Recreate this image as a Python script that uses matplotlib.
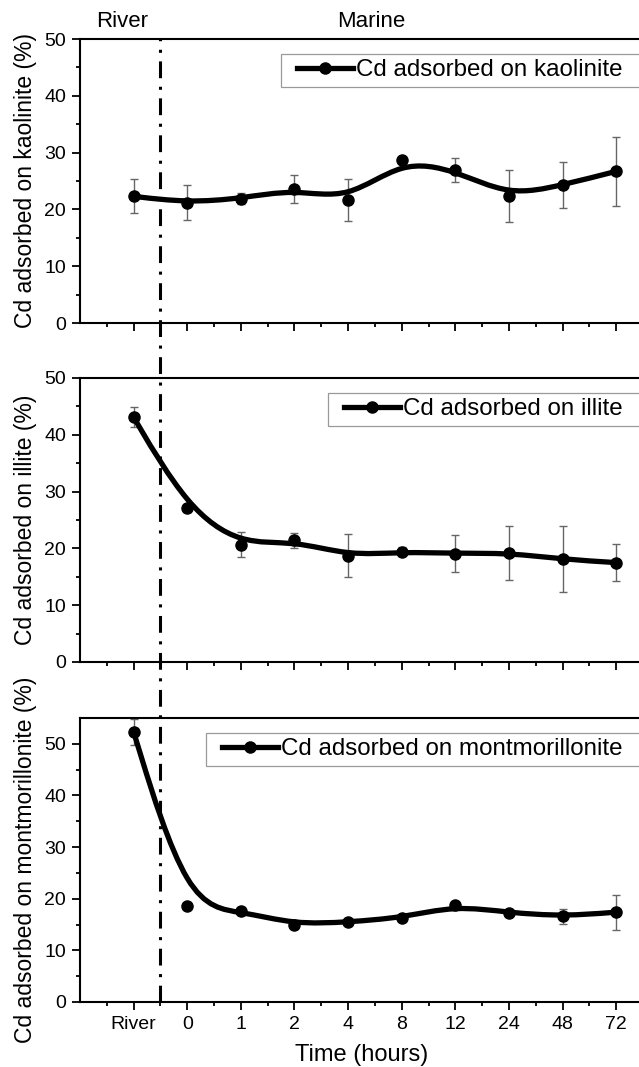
import numpy as np
import matplotlib
matplotlib.use("Agg")
import matplotlib.pyplot as plt
from matplotlib.path import Path
from matplotlib.patches import PathPatch
from matplotlib.lines import Line2D
from matplotlib.legend_handler import HandlerLine2D

plt.rcParams["font.family"] = ["Liberation Sans", "DejaVu Sans"]

categories = ["River", "0", "1", "2", "4", "8", "12", "24", "48", "72"]

kaolinite = [22.3, 21.2, 21.9, 23.6, 21.6, 28.7, 26.9, 22.3, 24.3, 26.7]
kaolinite_err = [3.0, 3.1, 0.9, 2.5, 3.7, 0.4, 2.1, 4.6, 4.1, 6.1]

illite = [43.1, 27.1, 20.6, 21.4, 18.7, 19.4, 19.1, 19.2, 18.1, 17.5]
illite_err = [1.8, 0.7, 2.2, 1.3, 3.8, 0.8, 3.2, 4.7, 5.8, 3.3]

montmorillonite = [52.3, 18.5, 17.6, 15.0, 15.5, 16.3, 18.7, 17.3, 16.6, 17.4]
montmorillonite_err = [2.5, 0.3, 0.8, 0.9, 0.5, 0.5, 0.5, 0.6, 1.4, 3.4]

panels = [
    ("kaolinite", kaolinite, kaolinite_err, 50),
    ("illite", illite, illite_err, 50),
    ("montmorillonite", montmorillonite, montmorillonite_err, 55),
]


def bspline_path(xs, ys):
    # Origin-style B-spline: data points are control points, ends clamped
    px = np.r_[xs[0], xs[0], xs, xs[-1], xs[-1]]
    py = np.r_[ys[0], ys[0], ys, ys[-1], ys[-1]]
    pts = np.column_stack([px, py])
    verts = [pts[0]]
    for i in range(len(pts) - 3):
        p1, p2, p3 = pts[i + 1], pts[i + 2], pts[i + 3]
        verts += [(2 * p1 + p2) / 3, (p1 + 2 * p2) / 3, (p1 + 4 * p2 + p3) / 6]
    codes = [Path.MOVETO] + [Path.CURVE4] * (len(verts) - 1)
    return Path(verts, codes)


fig = plt.figure(figsize=(6.39, 10.67), dpi=100)
W, H = 639.0, 1067.0
left_px, right_px = 80.0, 643.0
tops = [39, 378, 718]
panel_h = 284
x = np.arange(len(categories))
xlim = (-1, 9.5)

axes = []
for (name, vals, errs, ymax), top in zip(panels, tops):
    ax = fig.add_axes([left_px / W, 1 - (top + panel_h) / H, (right_px - left_px) / W, panel_h / H])
    axes.append(ax)
    ax.errorbar(x, vals, yerr=errs, fmt="none", ecolor="#666666", elinewidth=1.0, capsize=3, capthick=1.0, zorder=2)
    ax.add_patch(PathPatch(bspline_path(x.astype(float), np.array(vals)), fill=False, lw=3.8,
                           edgecolor="black", capstyle="round", joinstyle="round", zorder=3))
    ax.plot(x, vals, "o", color="black", ms=8, zorder=4)
    ax.set_xlim(*xlim)
    ax.set_ylim(0, ymax)
    ax.set_yticks([0, 10, 20, 30, 40, 50])
    ax.set_yticks(np.arange(5, ymax, 10), minor=True)
    ax.set_xticks(x)
    ax.set_xticks(np.arange(-0.5, 9.5, 1.0), minor=True)
    ax.tick_params(which="major", direction="out", length=6, width=1.3, labelsize=14, pad=4)
    ax.tick_params(which="minor", direction="out", length=3, width=1.3)
    for s in ax.spines.values():
        s.set_linewidth(1.5)
    ax.set_ylabel(f"Cd adsorbed on {name} (%)", fontsize=16.5)
    ax.yaxis.set_label_coords(-0.076, 0.5)
    handle = Line2D([], [], color="black", lw=3.8, marker="o", ms=8)
    leg = ax.legend([handle], [f"Cd adsorbed on {name}  "], loc="upper right", fontsize=17.4,
                    handler_map={handle: HandlerLine2D(xpad=0.45)},
                    handlelength=2.75, handletextpad=0.12, borderpad=0.22, borderaxespad=0,
                    fancybox=False, framealpha=1, edgecolor="#999999", bbox_to_anchor=(0.9964, 0.947))
    leg.get_frame().set_linewidth(0.9)
    ax.set_xticklabels([])

axes[2].set_xticklabels(categories)
axes[2].set_xlabel("Time (hours)", fontsize=17, labelpad=8)

# River / Marine divider across all panels
ax_top, ax_bot = axes[0], axes[2]
inv = fig.transFigure.inverted()
xf, yf_top = inv.transform(ax_top.transData.transform((0.5, 50)))
_, yf_bot = inv.transform(ax_bot.transData.transform((0.5, 0)))
fig.add_artist(Line2D([xf, xf], [yf_bot, yf_top], color="black", lw=2.2,
                      linestyle=(0, (5.5, 2.8, 1, 2.8)), transform=fig.transFigure))

ax_top.text(-0.21, 51.3, "River", ha="center", va="bottom", fontsize=16)
ax_top.text(4.43, 51.3, "Marine", ha="center", va="bottom", fontsize=16)

fig.savefig("out.png", dpi=100)
